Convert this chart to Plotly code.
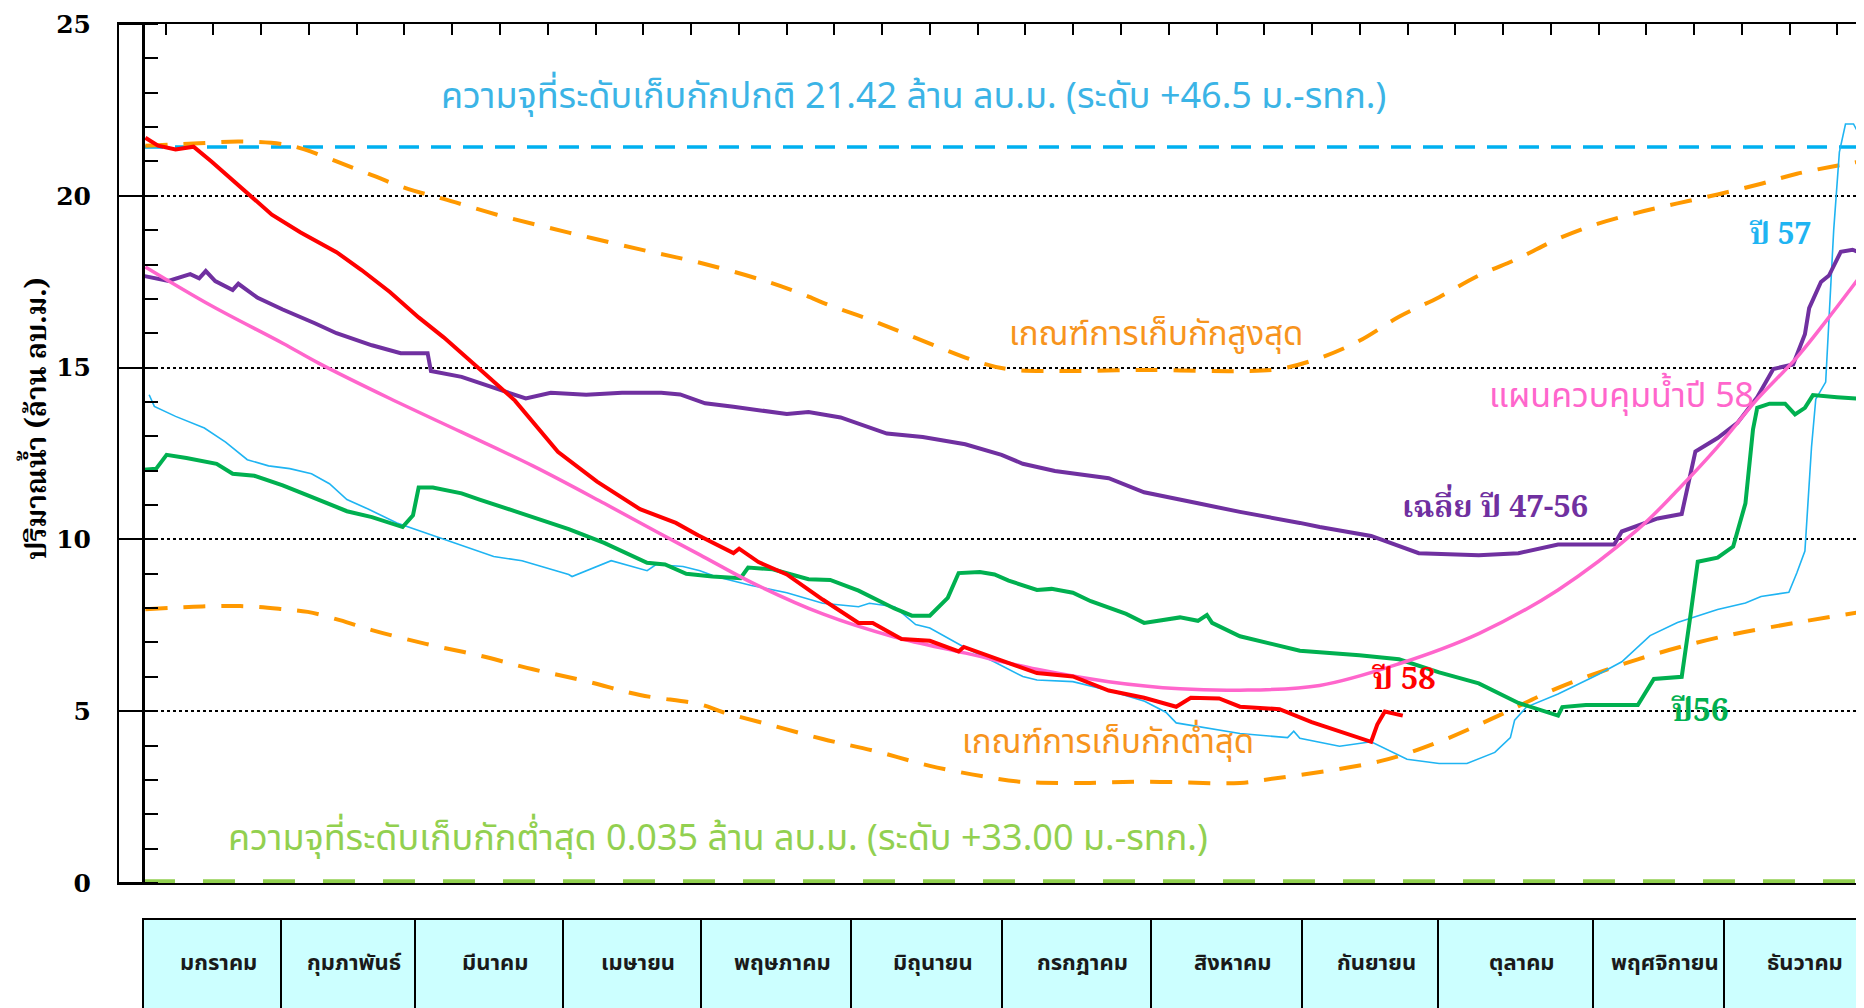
import plotly.graph_objects as go

# ---------------- data (x = day of year, starting at 0 on 1 Jan; y = million m3) ----------------
normal_capacity = 21.42
min_capacity = 0.035

red58_day = [0.5, 3.2, 6.9, 10.7, 14.5, 18.3, 22.0, 27.3, 33.4, 41.0, 46.3, 52.3, 58.4, 63.7, 71.3, 78.8,
             87.9, 96.2, 105.3, 112.9, 117.6, 125.1, 126.3, 130.4, 136.4, 144.0, 151.6, 154.6, 160.7, 166.7,
             172.8, 173.9, 181.8, 189.4, 197.0, 204.6, 212.1, 218.9, 222.0, 228.0, 232.4, 240.8, 247.6, 260.2,
             261.5, 263.1, 266.9]
red58_val = [21.69, 21.46, 21.35, 21.43, 21.0, 20.54, 20.08, 19.45, 18.93, 18.36, 17.84, 17.2, 16.46, 15.88,
             14.96, 14.04, 12.55, 11.68, 10.88, 10.48, 10.12, 9.6, 9.73, 9.34, 8.98, 8.25, 7.57, 7.57, 7.1, 7.05,
             6.74, 6.87, 6.48, 6.11, 6.01, 5.6, 5.39, 5.13, 5.39, 5.37, 5.13, 5.06, 4.68, 4.11, 4.61, 4.99, 4.87]

avg_day = [0.1, 5.4, 10.0, 11.9, 13.3, 15.3, 19.0, 20.2, 24.3, 29.6, 36.4, 41.0, 48.5, 54.6, 60.3, 61.0, 67.5,
           75.0, 81.1, 86.4, 93.9, 101.5, 109.8, 113.8, 119.1, 125.1, 136.4, 141.0, 147.8, 157.6, 165.2, 174.2,
           181.9, 186.4, 193.2, 204.6, 212.1, 223.5, 232.4, 245.1, 249.3, 260.2, 270.3, 283.0, 291.4, 299.8,
           311.7, 313.3, 320.9, 326.0, 328.9, 333.6, 337.8, 342.0, 345.4, 349.6, 352.1, 353.0, 355.5, 357.2,
           359.7, 362.2, 364.6]
avg_val = [17.67, 17.52, 17.72, 17.6, 17.81, 17.52, 17.26, 17.44, 17.03, 16.69, 16.29, 16.0, 15.65, 15.42, 15.42,
           14.9, 14.73, 14.39, 14.1, 14.27, 14.21, 14.27, 14.27, 14.22, 13.96, 13.86, 13.65, 13.71, 13.55, 13.08,
           12.98, 12.77, 12.46, 12.2, 11.99, 11.78, 11.37, 11.05, 10.8, 10.48, 10.36, 10.1, 9.6, 9.54, 9.6, 9.85,
           9.85, 10.23, 10.61, 10.74, 12.56, 12.95, 13.39, 14.14, 14.96, 15.09, 15.97, 16.73, 17.49, 17.68, 18.37,
           18.43, 18.3]

y56_day = [0.1, 2.8, 5.0, 9.2, 15.6, 19.0, 23.6, 29.6, 34.9, 43.2, 48.5, 55.0, 57.2, 58.4, 61.4, 67.5, 71.3,
           82.6, 90.2, 97.7, 106.8, 110.6, 115.1, 120.6, 126.6, 128.2, 133.4, 141.0, 145.6, 151.6, 159.2, 162.9,
           166.7, 170.5, 172.8, 177.3, 180.4, 183.4, 189.4, 192.5, 197.0, 200.8, 208.3, 212.1, 219.7, 223.5,
           225.4, 226.5, 232.4, 245.1, 257.7, 266.1, 274.6, 283.0, 291.4, 299.8, 300.7, 305.7, 316.7, 320.1,
           326.0, 327.7, 329.4, 333.6, 336.9, 339.5, 341.1, 342.0, 344.6, 347.9, 350.0, 352.1, 353.8, 358.9, 364.6]
y56_val = [12.03, 12.06, 12.46, 12.37, 12.2, 11.91, 11.85, 11.57, 11.28, 10.82, 10.65, 10.36, 10.7, 11.51, 11.51,
           11.34, 11.16, 10.65, 10.3, 9.9, 9.32, 9.27, 9.0, 8.92, 8.87, 9.18, 9.13, 8.84, 8.82, 8.51, 7.99, 7.78,
           7.78, 8.3, 9.02, 9.05, 8.98, 8.8, 8.53, 8.56, 8.45, 8.2, 7.83, 7.57, 7.73, 7.63, 7.8, 7.57, 7.18, 6.76,
           6.63, 6.51, 6.13, 5.81, 5.24, 4.87, 5.12, 5.18, 5.18, 5.94, 6.0, 7.64, 9.35, 9.47, 9.79, 11.05, 13.2,
           13.83, 13.95, 13.95, 13.64, 13.83, 14.2, 14.14, 14.08]

y57_day = [1.3, 2.4, 6.9, 13.0, 17.5, 22.1, 26.6, 31.1, 35.7, 39.5, 43.2, 47.8, 53.8, 63.7, 74.3, 80.3, 90.2,
           90.9, 93.9, 99.2, 106.8, 108.7, 114.4, 118.0, 121.3, 128.9, 136.4, 144.0, 151.6, 153.9, 159.2, 163.7,
           166.7, 174.3, 180.4, 186.4, 189.4, 197.0, 204.6, 212.2, 216.7, 218.9, 232.4, 242.5, 243.8, 245.1,
           253.5, 260.2, 267.8, 274.6, 280.5, 286.4, 289.7, 290.6, 293.1, 299.8, 308.3, 313.3, 319.3, 325.1,
           333.6, 339.5, 342.8, 348.7, 350.4, 352.1, 353.5, 354.4, 356.5, 358.2, 359.4, 360.7, 362.4, 363.6, 364.6]
y57_val = [14.21, 13.87, 13.58, 13.24, 12.83, 12.32, 12.14, 12.06, 11.91, 11.62, 11.16, 10.88, 10.48, 10.01, 9.5,
           9.38, 8.98, 8.92, 9.09, 9.38, 9.09, 9.27, 9.21, 9.09, 8.92, 8.66, 8.45, 8.14, 8.04, 8.14, 8.04, 7.52,
           7.42, 6.84, 6.43, 6.01, 5.91, 5.86, 5.6, 5.29, 4.97, 4.66, 4.35, 4.23, 4.42, 4.21, 3.98, 4.11, 3.6,
           3.48, 3.48, 3.8, 4.23, 4.74, 5.12, 5.5, 6.07, 6.44, 7.2, 7.58, 7.96, 8.15, 8.34, 8.46, 9.03, 9.66,
           12.69, 14.08, 14.58, 19.0, 21.27, 22.09, 22.09, 21.78, 21.71]

plan58_day = [0.5, 14.5, 29.6, 37.2, 52.3, 67.5, 82.6, 97.7, 109.1, 118.0, 128.9, 144.0, 159.2, 174.3, 189.4,
              204.6, 219.7, 232.4, 249.3, 266.1, 283.0, 299.8, 316.7, 325.1, 333.6, 342.0, 350.4, 358.8, 364.6]
plan58_val = [17.93, 16.8, 15.71, 15.13, 14.1, 13.12, 12.14, 11.05, 10.2, 9.55, 8.75, 7.83, 7.16, 6.69, 6.22,
              5.86, 5.65, 5.61, 5.75, 6.38, 7.26, 8.53, 10.29, 11.43, 12.69, 14.08, 15.3, 16.75, 17.8]

upper_day = [0.5, 10.7, 20.6, 29.6, 34.2, 41.0, 48.5, 56.1, 63.7, 75.0, 90.2, 105.3, 118.0, 131.1, 138.7, 146.3,
             153.9, 161.4, 169.0, 176.6, 183.4, 193.2, 212.1, 232.4, 240.8, 249.3, 257.7, 266.1, 274.6, 283.0,
             291.4, 299.8, 308.3, 316.7, 325.1, 333.6, 342.0, 350.4, 364.6]
upper_val = [21.46, 21.52, 21.58, 21.5, 21.35, 21.0, 20.6, 20.2, 19.91, 19.45, 18.93, 18.44, 18.05, 17.55, 17.19,
             16.77, 16.4, 15.99, 15.57, 15.18, 14.95, 14.9, 14.93, 14.9, 14.96, 15.28, 15.78, 16.48, 17.05, 17.68,
             18.18, 18.75, 19.19, 19.51, 19.78, 20.04, 20.32, 20.64, 21.02]

lower_day = [0.5, 10.7, 20.6, 29.6, 34.9, 41.7, 48.5, 59.9, 71.3, 82.6, 94.0, 105.3, 118.0, 122.9, 132.7, 144.0,
             155.4, 166.7, 178.1, 185.6, 197.0, 212.2, 232.4, 237.5, 261.9, 274.6, 287.2, 299.8, 316.7, 333.6,
             350.4, 364.6]
lower_val = [7.97, 8.04, 8.06, 7.97, 7.89, 7.65, 7.36, 6.96, 6.62, 6.22, 5.87, 5.47, 5.2, 4.97, 4.61, 4.19, 3.83,
             3.41, 3.1, 2.95, 2.91, 2.95, 2.91, 3.0, 3.54, 4.11, 4.87, 5.68, 6.51, 7.14, 7.58, 7.9]

months = ["มกราคม", "กุมภาพันธ์", "มีนาคม", "เมษายน", "พฤษภาคม", "มิถุนายน",
          "กรกฎาคม", "สิงหาคม", "กันยายน", "ตุลาคม", "พฤศจิกายน", "ธันวาคม"]
y_ticks = [0, 5, 10, 15, 20, 25]

# ---------------- layout helpers (pixel positions on the 1864x1008 page) ----------------
PAGE_W, PAGE_H = 1864, 1008
BODY = 8                                     # default body margin of the html page
W, H = PAGE_W - BODY, PAGE_H - BODY
PL, PR, PT, PB = 119, 1864, 24, 883          # plot area edges on the page
DAY_PX = 4.72
X_LEFT = (PL - 143) / DAY_PX
X_RIGHT = (PR - 143) / DAY_PX


def px(xp):
    return (xp - PL) / (PR - PL)


def py(yp):
    return (PB - yp) / (PB - PT)


THAI = "Tahoma, 'Noto Sans Thai', 'Noto Sans Thai UI', 'Noto Sans', sans-serif"
THAI_SERIF = "'Noto Serif Thai', 'Noto Sans Thai', 'DejaVu Serif', serif"

fig = go.Figure()

x_full = [0, X_RIGHT]
fig.add_trace(go.Scatter(x=x_full, y=[min_capacity] * 2, mode="lines",
                         line=dict(color="#92D050", width=5, dash="32px,28px")))
fig.add_trace(go.Scatter(x=x_full, y=[normal_capacity] * 2, mode="lines",
                         line=dict(color="#00B0F0", width=3.5, dash="20px,12px")))
fig.add_trace(go.Scatter(x=upper_day, y=upper_val, mode="lines", line_shape="spline",
                         line=dict(color="#FF9900", width=4, dash="22px,16px")))
fig.add_trace(go.Scatter(x=lower_day, y=lower_val, mode="lines", line_shape="spline",
                         line=dict(color="#FF9900", width=4, dash="22px,16px")))
fig.add_trace(go.Scatter(x=y57_day, y=y57_val, mode="lines",
                         line=dict(color="#1FB4F2", width=1.6)))
fig.add_trace(go.Scatter(x=y56_day, y=y56_val, mode="lines",
                         line=dict(color="#00B050", width=4)))
fig.add_trace(go.Scatter(x=avg_day, y=avg_val, mode="lines",
                         line=dict(color="#7030A0", width=4)))
fig.add_trace(go.Scatter(x=plan58_day, y=plan58_val, mode="lines", line_shape="spline",
                         line=dict(color="#FF66CC", width=3.5)))
fig.add_trace(go.Scatter(x=red58_day, y=red58_val, mode="lines",
                         line=dict(color="#FF0000", width=4)))
# carrier trace for the inner y axis
fig.add_trace(go.Scatter(x=[None], y=[None], yaxis="y2", mode="lines", hoverinfo="skip"))

fig.update_layout(
    width=W, height=H, showlegend=False,
    margin=dict(l=PL - BODY, r=PAGE_W - PR, t=PT - BODY, b=PAGE_H - PB),
    paper_bgcolor="white", plot_bgcolor="white",
    xaxis=dict(range=[X_LEFT, X_RIGHT], side="top", showgrid=False, zeroline=False,
               showline=True, mirror=True, linecolor="black", linewidth=2,
               ticks="inside", ticklen=11, tickwidth=2, tickcolor="black",
               tick0=4.8, dtick=10.12, showticklabels=False),
    yaxis=dict(range=[0, 25], tickvals=y_ticks, showgrid=True, gridcolor="black",
               griddash="dot", gridwidth=1.5, zeroline=False,
               showline=True, linecolor="black", linewidth=2, ticks="",
               ticklabelstandoff=21,
               tickfont=dict(family="'DejaVu Serif', 'Liberation Serif', serif", size=25,
                             color="black", weight="bold")),
    yaxis2=dict(range=[0, 25], overlaying="y", anchor="free", position=px(143), side="left",
                showline=True, linecolor="black", linewidth=2.5, showgrid=False, zeroline=False,
                tickvals=y_ticks, ticks="outside", ticklen=24, tickwidth=2, tickcolor="black",
                showticklabels=False,
                minor=dict(ticks="inside", ticklen=13, tickwidth=2, tickcolor="black", dtick=1)),
)

# ---------------- text labels ----------------
def label(text, xp, yp, color, size, family=THAI, weight="normal", angle=0):
    fig.add_annotation(text=text, x=px(xp), y=py(yp), xref="paper", yref="paper",
                       showarrow=False, textangle=angle, xanchor="center", yanchor="middle",
                       font=dict(family=family, size=size, color=color, weight=weight))


label("ความจุที่ระดับเก็บกักปกติ 21.42 ล้าน ลบ.ม. (ระดับ +46.5 ม.-รทก.)", 913, 97, "#3BB4E6", 36)
label("เกณฑ์การเก็บกักสูงสุด", 1156, 335, "#F7941D", 33)
label("แผนควบคุมน้ำปี 58", 1621, 396, "#FF66CC", 34)
label("เฉลี่ย ปี 47-56", 1495, 509, "#7030A0", 31, THAI_SERIF, "bold")
label("ปี 57", 1780, 236, "#1FB4F2", 30, THAI_SERIF, "bold")
label("ปี 58", 1404, 681, "#FF0000", 31, THAI_SERIF, "bold")
label("ปี56", 1700, 712, "#00B050", 32, THAI_SERIF, "bold")
label("เกณฑ์การเก็บกักต่ำสุด", 1108, 743, "#F7941D", 33)
label("ความจุที่ระดับเก็บกักต่ำสุด 0.035 ล้าน ลบ.ม. (ระดับ +33.00 ม.-รทก.)", 718, 839, "#92D050", 36)
label("ปริมาณน้ำ (ล้าน ลบ.ม.)", 38, 419, "black", 28, THAI_SERIF, "bold", angle=-90)

# ---------------- month table under the chart ----------------
edges = [143, 281, 415, 563, 701, 851, 1002, 1151, 1302, 1438, 1593, 1724, 1874]
for i, name in enumerate(months):
    fig.add_shape(type="rect", xref="paper", yref="paper",
                  x0=px(edges[i]), x1=px(edges[i + 1]), y0=py(1030), y1=py(919),
                  fillcolor="#CCFFFF", line=dict(color="black", width=2), layer="below")
    label(name, (edges[i] + edges[i + 1]) / 2 + 6, 963, "#1A1A1A", 22, THAI, "bold")

fig.write_html("out.html")
